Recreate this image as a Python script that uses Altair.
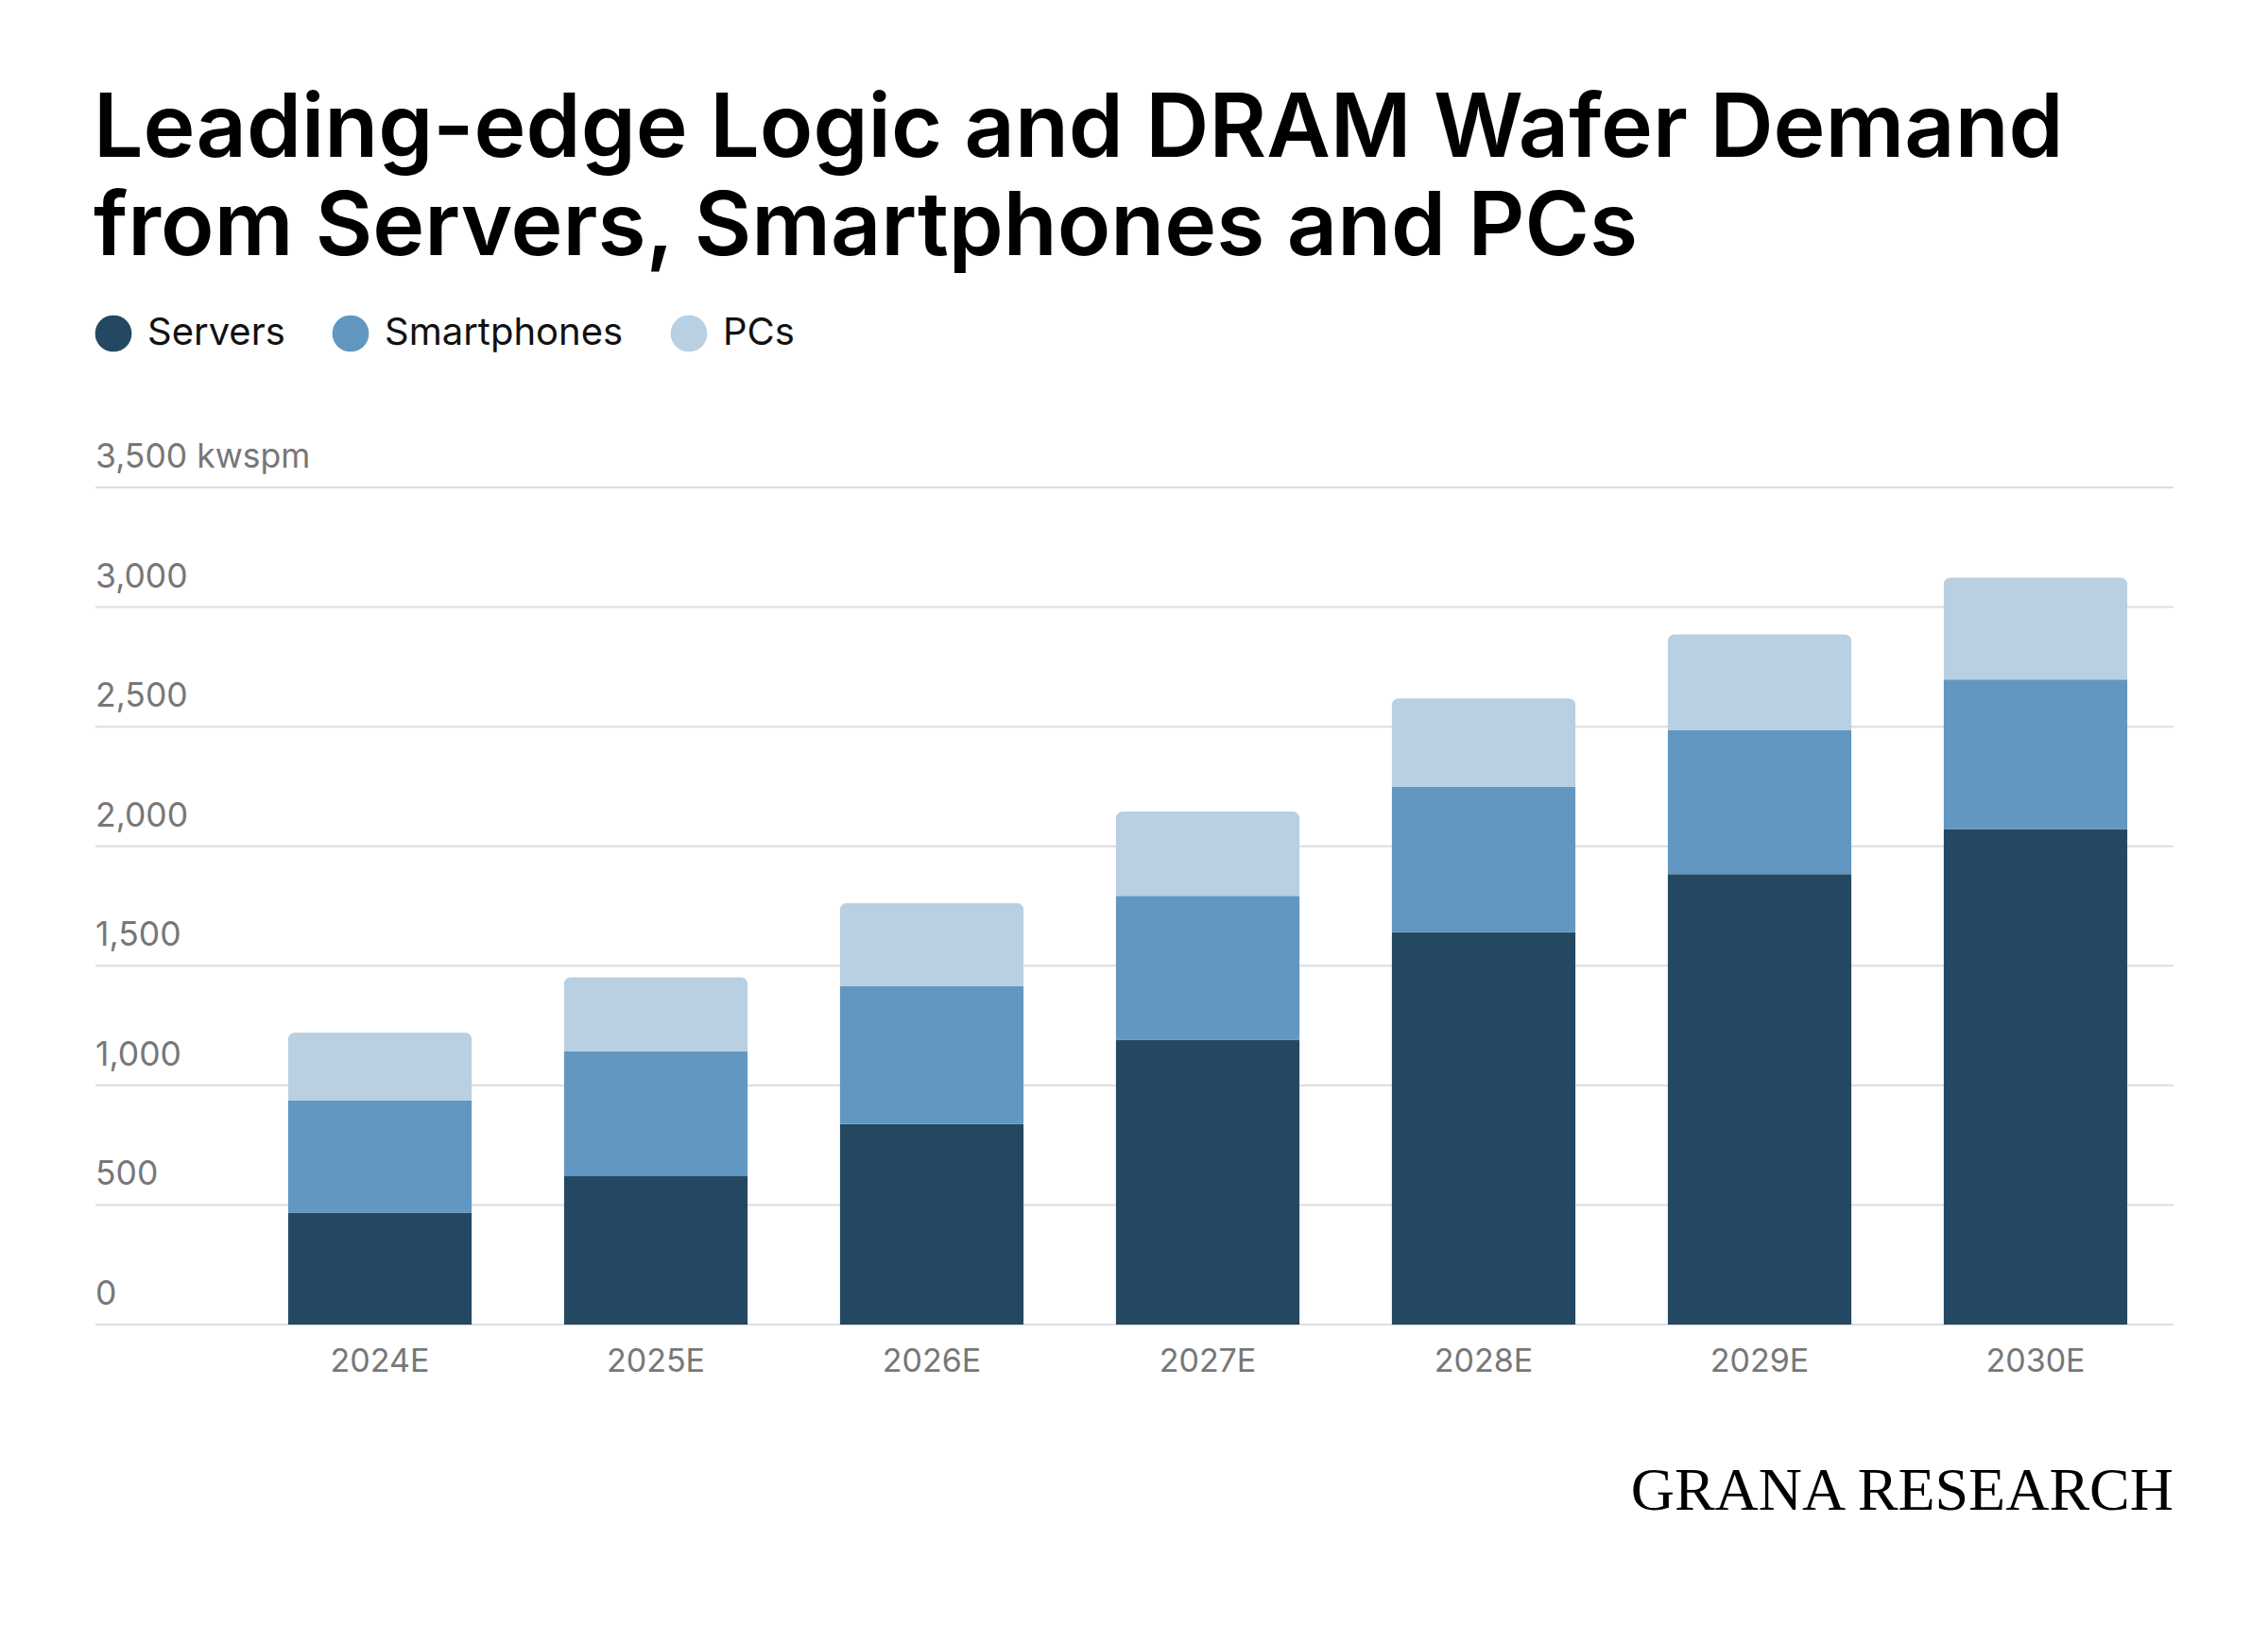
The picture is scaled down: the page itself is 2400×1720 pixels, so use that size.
import altair as alt
import pandas as pd

years = ["2024E", "2025E", "2026E", "2027E", "2028E", "2029E", "2030E"]
servers = [468, 620, 838, 1191, 1640, 1883, 2072]
smartphones = [468, 522, 578, 601, 608, 602, 625]
pcs = [285, 310, 346, 353, 370, 401, 426]
ticks = [0, 500, 1000, 1500, 2000, 2500, 3000, 3500]
tick_labels = ["0", "500", "1,000", "1,500", "2,000", "2,500", "3,000", "3,500 kwspm"]
series = ["Servers", "Smartphones", "PCs"]
colors = ["#254862", "#6197c0", "#b9cfe2"]

rows = []
for i, yv in enumerate(years):
    base = 0
    for s, v in zip(series, [servers[i], smartphones[i], pcs[i]]):
        rows.append({"year": yv, "series": s, "y0": base, "y1": base + v})
        base += v
df = pd.DataFrame(rows)
tdf = pd.DataFrame({"v": ticks, "lab": tick_labels})

W, H = 2044, 886
TOP = 516
FONT = "Inter"
xenc = alt.X("year:N", sort=years, title=None,
             scale=alt.Scale(paddingInner=0.335, paddingOuter=0.1675),
             axis=alt.Axis(domain=False, ticks=False, labelAngle=0, labelFont=FONT, labelFontSize=34,
                           labelColor="#777777", labelPadding=22))
yscale = alt.Scale(domain=[0, 3500], nice=False)

grid = alt.Chart(tdf).mark_rule(color="#dddddd", strokeWidth=2).encode(
    x=alt.value(-155), x2=alt.value(W), y=alt.Y("v:Q", scale=yscale, axis=None))
glabels = alt.Chart(tdf).mark_text(align="left", baseline="bottom", dy=-14, font=FONT,
                                   fontSize=35.5, color="#777777").encode(
    x=alt.value(-155), y=alt.Y("v:Q", scale=yscale, axis=None), text="lab:N")

color = alt.Color("series:N", sort=series, scale=alt.Scale(domain=series, range=colors),
                  legend=alt.Legend(title=None, orient="none", legendX=-156, legendY=-183,
                                    direction="horizontal", symbolType="circle", symbolSize=1500,
                                    symbolStrokeWidth=0, labelFont=FONT, labelFontSize=40,
                                    labelColor="#111111", labelOffset=16, columnPadding=49,
                                    labelLimit=400))

bars = alt.Chart(df).transform_filter("datum.series != 'PCs'").mark_bar().encode(
    x=xenc, y=alt.Y("y1:Q", scale=yscale, axis=None), y2="y0:Q", color=color)
top = alt.Chart(df).transform_filter("datum.series == 'PCs'").mark_bar(
    cornerRadiusTopLeft=7, cornerRadiusTopRight=7).encode(
    x=xenc, y=alt.Y("y1:Q", scale=yscale, axis=None), y2="y0:Q", color=color)

one = pd.DataFrame({"a": [1]})
t1 = alt.Chart(one).mark_text(align="left", baseline="alphabetic", font=FONT, fontSize=93,
                              fontWeight=600, color="#000000").encode(
    x=alt.value(-157), y=alt.value(166 - TOP), text=alt.value("Leading-edge Logic and DRAM Wafer Demand"))
t2 = alt.Chart(one).mark_text(align="left", baseline="alphabetic", font=FONT, fontSize=93,
                              fontWeight=600, color="#000000").encode(
    x=alt.value(-157), y=alt.value(270 - TOP), text=alt.value("from Servers, Smartphones and PCs"))
brand = alt.Chart(one).mark_text(align="right", baseline="alphabetic", font="Liberation Serif",
                                 fontSize=64, color="#000000").encode(
    x=alt.value(W), y=alt.value(1598 - TOP), text=alt.value("GRANA RESEARCH"))

chart = alt.layer(grid, glabels, bars, top, t1, t2, brand).properties(
    width=W, height=H, autosize=alt.AutoSizeParams(type="none"),
    padding={"left": 248, "top": TOP - 8, "right": 80, "bottom": 300},
    background="white").configure_view(stroke=None)

chart.save("out.html", embed_options={"renderer": "svg", "actions": False})
